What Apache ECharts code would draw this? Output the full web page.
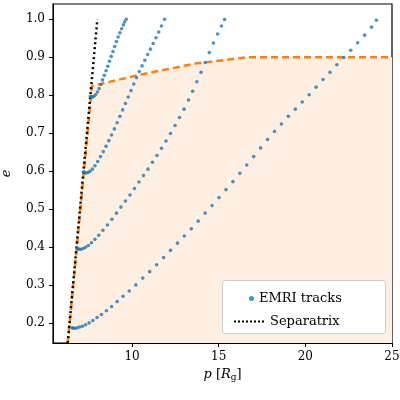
<!DOCTYPE html><html><head><meta charset="utf-8">
<script src="https://cdn.jsdelivr.net/npm/echarts@6/dist/echarts.min.js"></script>
<style>html,body{margin:0;padding:0;background:#fff}#c{width:400px;height:400px}</style></head><body><div id="c"></div>
<script>
const xTicks=[10,15,20,25];
const yTicks=[0.2,0.3,0.4,0.5,0.6,0.7,0.8,0.9,1.0];
const track1=[[6.54,.187],[6.62,.186],[6.72,.186],[6.84,.187],[6.98,.189],[7.14,.191],[7.32,.195],[7.52,.200],[7.74,.206],[7.98,.214],[8.24,.222],[8.52,.232],[8.82,.243],[9.14,.256],[9.48,.270],[9.84,.284],[10.22,.300],[10.62,.318],[11.02,.335],[11.42,.353],[11.82,.372],[12.22,.391],[12.62,.410],[13.02,.429],[13.42,.448],[13.82,.468],[14.22,.489],[14.62,.509],[15.02,.530],[15.42,.551],[15.82,.572],[16.22,.594],[16.62,.616],[17.02,.638],[17.42,.661],[17.82,.683],[18.22,.704],[18.62,.724],[19.02,.744],[19.42,.763],[19.82,.782],[20.22,.801],[20.62,.821],[21.02,.841],[21.42,.86],[21.82,.88],[22.22,.899],[22.62,.918],[23.02,.938],[23.42,.958],[23.82,.979],[24.1,.997]];
const track2=[[6.82,.397],[6.88,.395],[6.96,.394],[7.06,.394],[7.18,.396],[7.32,.399],[7.48,.404],[7.66,.411],[7.86,.420],[8.08,.431],[8.32,.444],[8.58,.458],[8.84,.473],[9.1,.489],[9.36,.505],[9.62,.521],[9.88,.537],[10.14,.554],[10.4,.571],[10.66,.588],[10.92,.605],[11.18,.623],[11.44,.641],[11.7,.66],[11.96,.679],[12.22,.699],[12.48,.72],[12.74,.741],[13.0,.763],[13.26,.787],[13.5,.81],[13.74,.835],[13.98,.86],[14.22,.886],[14.46,.912],[14.7,.937],[14.94,.961],[15.16,.982],[15.34,.999]];
const track3=[[7.21,.598],[7.27,.596],[7.35,.595],[7.45,.596],[7.57,.599],[7.71,.605],[7.86,.614],[8.02,.625],[8.18,.638],[8.34,.651],[8.5,.665],[8.66,.68],[8.82,.695],[8.98,.711],[9.14,.727],[9.3,.744],[9.46,.761],[9.62,.778],[9.78,.795],[9.94,.812],[10.1,.829],[10.26,.846],[10.42,.862],[10.58,.877],[10.74,.892],[10.9,.907],[11.06,.921],[11.22,.936],[11.38,.951],[11.54,.966],[11.7,.982],[11.88,1.0]];
const track4=[[7.59,.796],[7.65,.795],[7.72,.795],[7.8,.797],[7.9,.801],[8.0,.808],[8.1,.817],[8.2,.828],[8.3,.84],[8.4,.852],[8.5,.864],[8.6,.876],[8.7,.889],[8.8,.902],[8.9,.915],[9.0,.928],[9.1,.941],[9.2,.953],[9.3,.964],[9.4,.975],[9.5,.985],[9.58,.993],[9.67,1.0]];
const separatrix=[[6.29,0.147],[8.0,1.0]];
const boundary=[[6.29,0.147],[7.69,0.824],[10.38,0.853],[13.65,0.883],[16.7,0.9],[25,0.9]];

const F='DejaVu Serif';
const blue='#1f77b4';
function dots(d,name){return {type:'scatter',name:name,data:d,symbolSize:3.6,itemStyle:{color:blue},z:4};}
const chart=echarts.init(document.getElementById('c'));
const lt={fontFamily:F,fontSize:13,color:'#000'};
chart.setOption({
  animation:false,
  grid:{left:53,top:4,right:8,bottom:57,outerBoundsMode:'none',containLabel:false,show:true,borderColor:'#000',borderWidth:1.2},
  xAxis:{type:'value',min:5.44,max:25,name:'{i|p} [{i|R}{s|g}]',nameLocation:'middle',nameGap:24,
    nameTextStyle:{fontFamily:F,fontSize:13,color:'#000',rich:{i:{fontFamily:F,fontStyle:'italic',fontSize:13},s:{fontFamily:F,fontSize:9,verticalAlign:'bottom',padding:[6,0,0,0]}}},
    splitLine:{show:false},axisLine:{lineStyle:{color:'#000'}},
    axisTick:{customValues:xTicks,length:4,lineStyle:{color:'#000'}},
    axisLabel:{customValues:xTicks,fontFamily:F,fontSize:12,color:'#000',margin:8}},
  yAxis:{type:'value',min:0.147,max:1.04,name:'e',nameLocation:'middle',nameGap:40,
    nameTextStyle:{fontFamily:F,fontStyle:'italic',fontSize:13,color:'#000'},
    splitLine:{show:false},axisLine:{show:true,lineStyle:{color:'#000'}},
    axisTick:{show:true,customValues:yTicks,length:4,lineStyle:{color:'#000'}},
    axisLabel:{customValues:yTicks,fontFamily:F,fontSize:12,color:'#000',formatter:v=>v.toFixed(1)}},
  graphic:[{type:'rect',left:222,top:280,shape:{width:163,height:53,r:3},style:{fill:'#fff',stroke:'#ccc',lineWidth:1},z:10}],
  legend:[
    {left:244,top:287,itemWidth:5,itemHeight:5,itemGap:20,textStyle:lt,data:[{name:'EMRI tracks',icon:'circle'}],zlevel:1},
    {left:229,top:310,itemWidth:32,itemHeight:10,textStyle:lt,data:[{name:'Separatrix',icon:'path://M0,4 L2,4 L2,6 L0,6Z M4,4 L6,4 L6,6 L4,6Z M8,4 L10,4 L10,6 L8,6Z M12,4 L14,4 L14,6 L12,6Z M16,4 L18,4 L18,6 L16,6Z M20,4 L22,4 L22,6 L20,6Z M24,4 L26,4 L26,6 L24,6Z M28,4 L30,4 L30,6 L28,6Z M0,0 L0,0.01 M30,10 L30,9.99',itemStyle:{color:'#000'}}],zlevel:1}
  ],
  series:[
    {type:'line',name:'boundary',data:boundary,showSymbol:false,symbol:'none',lineStyle:{color:'#ff7f0e',width:2.5,type:[7,4]},
     areaStyle:{color:'#fdf0e2',origin:'start',opacity:1},z:2},
    dots(track1,'EMRI tracks'),dots(track2,'EMRI tracks'),dots(track3,'EMRI tracks'),dots(track4,'EMRI tracks'),
    {type:'line',name:'Separatrix',data:separatrix,showSymbol:false,symbol:'none',lineStyle:{color:'#000',width:2.5,type:[2,3]},itemStyle:{color:'#000'},z:3}
  ]
});
</script></body></html>
